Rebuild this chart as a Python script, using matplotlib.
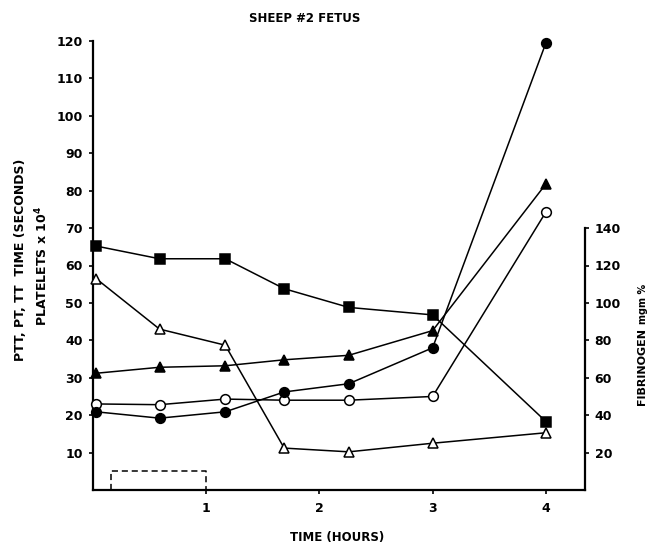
#!/usr/bin/env python3

# plot.py
#
# Coagulation time course for the sheep #2 fetus, redrawn from the scanned figure.
import matplotlib
matplotlib.use("Agg")
import matplotlib.pyplot as plt

# Sampling times (hours)
hours = [0.03, 0.59, 1.17, 1.69, 2.26, 3.0, 4.0]

# Series values read against the left axis (seconds / platelets x 10^4)
squares_filled = [65.2, 61.8, 61.8, 53.8, 48.8, 46.8, 18.3]
triangles_open = [56.5, 43.0, 38.7, 11.2, 10.2, 12.5, 15.3]
triangles_filled = [31.2, 32.8, 33.2, 34.8, 36.0, 42.6, 81.8]
circles_open = [23.0, 22.8, 24.3, 24.0, 24.0, 25.0, 74.3]
circles_filled = [20.9, 19.2, 20.9, 26.2, 28.4, 38.0, 119.5]

# Infusion period, drawn as the dashed box on the time axis
infusion_start = 0.16
infusion_end = 1.0
infusion_height = 5.2

left_ticks = [10, 20, 30, 40, 50, 60, 70, 80, 90, 100, 110, 120]
right_ticks = [20, 40, 60, 80, 100, 120, 140]
time_ticks = [1, 2, 3, 4]

W, H = 660, 549
FONT = dict(family="DejaVu Sans", weight="bold")


def fx(px):
    return px / W


def fy(py):
    return 1 - py / H


def main():
    fig = plt.figure(figsize=(W / 100, H / 100), dpi=100)
    ax = fig.add_axes([fx(92.7), fy(490), fx(585) - fx(92.7), fy(41) - fy(490)])
    ax.set_xlim(0, 4.345)
    ax.set_ylim(0, 120)

    # The five series, all plotted on the left scale as in the original
    series = [
        (squares_filled, "s", "black"),
        (triangles_open, "^", "white"),
        (triangles_filled, "^", "black"),
        (circles_open, "o", "white"),
        (circles_filled, "o", "black"),
    ]
    for values, marker, face in series:
        ax.plot(hours, values, color="black", lw=1.1, marker=marker, ms=7,
                mfc=face, mec="black", mew=1.1, clip_on=False, zorder=3)

    # Dashed box marking the infusion
    ax.plot([infusion_start, infusion_start, infusion_end, infusion_end],
            [0, infusion_height, infusion_height, 0],
            color="black", lw=1.1, ls=(0, (4, 2.5)), clip_on=False)

    # Axis formatting
    ax.spines["top"].set_visible(False)
    ax.spines["right"].set_visible(False)
    for side in ("left", "bottom"):
        ax.spines[side].set_linewidth(1.6)
    ax.spines["bottom"].set_bounds(0, 4.345)

    ax.set_yticks(left_ticks)
    ax.set_xticks(time_ticks)
    ax.tick_params(axis="y", direction="out", length=3, width=1.2, pad=4, labelsize=9)
    ax.tick_params(axis="x", direction="out", length=3, width=1.2, pad=6, labelsize=9)
    for lab in ax.get_xticklabels() + ax.get_yticklabels():
        lab.set_fontweight("bold")

    # Fibrinogen scale on the right, only up to 140
    ax2 = ax.twinx()
    ax2.set_ylim(0, 240)
    for side in ("top", "left", "bottom"):
        ax2.spines[side].set_visible(False)
    ax2.spines["right"].set_linewidth(1.6)
    ax2.spines["right"].set_bounds(0, 140)
    ax2.set_yticks(right_ticks)
    ax2.tick_params(axis="y", direction="out", length=3, width=1.2, pad=4, labelsize=9)
    for lab in ax2.get_yticklabels():
        lab.set_fontweight("bold")

    # Labels
    fig.text(fx(305), fy(18), "SHEEP #2 FETUS", ha="center", va="center", fontsize=8.5, **FONT)
    fig.text(fx(337), fy(537), "TIME (HOURS)", ha="center", va="center", fontsize=8.5, **FONT)
    fig.text(fx(21), fy(260), "PTT, PT, TT  TIME (SECONDS)", rotation=90,
             ha="center", va="center", fontsize=9, **FONT)
    fig.text(fx(42), fy(266), "PLATELETS x 10$^\\mathbf{4}$", rotation=90,
             ha="center", va="center", fontsize=9, **FONT)

    # Fibrinogen label: big word, then the smaller unit right above it
    fib = fig.text(fx(642), fy(405), "FIBRINOGEN", rotation=90,
                   ha="center", va="bottom", fontsize=8, **FONT)
    fig.canvas.draw()
    top = fib.get_window_extent().y1
    fig.text(fx(643), (top + 4) / H, "mgm %", rotation=90,
             ha="center", va="bottom", fontsize=7, **FONT)

    fig.savefig("out.png", dpi=100)


if __name__ == "__main__":
    main()
